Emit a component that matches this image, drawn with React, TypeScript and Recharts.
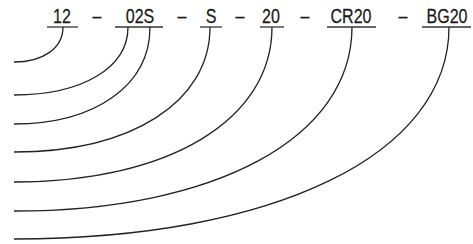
import React from 'react';
import { ComposedChart, XAxis, YAxis, Line, Scatter, ReferenceLine } from 'recharts';

// Diagram coordinate space (same units as the picture)
const codeLabels = ['12', '02S', 'S', '20', 'CR20', 'BG20'];
const labelCenterX = [62, 140, 211, 271, 351, 447];
const underlineStartX = [47, 115, 200, 260, 327, 422];
const underlineEndX = [78, 163, 222, 284, 376, 471];
const dashCenterX = [97, 182, 240, 305, 403];
const underlineY = 27;
const labelBaselineY = 23;

// Callout curves: start on an underline, end at a left-hand level
const curveStartX = [63, 128, 150, 210, 272, 352, 449];
const curveEndY = [62, 95, 124, 152, 182, 211, 239];
const curveEndX = 14;

const W = 473;
const H = 244;

const labelData = codeLabels.map((t, i) => ({ x: labelCenterX[i], y: labelBaselineY, text: t }));
const dashData = dashCenterX.map((x) => ({ x, y: labelBaselineY, text: '–' }));
const curveData = curveStartX.map((sx, i) => [
  { x: sx, y: underlineY },
  { x: curveEndX, y: curveEndY[i] },
]);

// custom d3-style curve factory: vertical tangent at start, horizontal at end
function calloutCurve(context: any) {
  let pts: number[][] = [];
  return {
    areaStart() {},
    areaEnd() {},
    lineStart() {
      pts = [];
    },
    lineEnd() {
      if (pts.length >= 2) {
        const [x1, y1] = pts[0];
        const [x0, y0] = pts[pts.length - 1];
        const k = 0.6;
        context.moveTo(x1, y1);
        context.bezierCurveTo(x1, y1 + k * (y0 - y1), x0 + k * (x1 - x0), y0, x0, y0);
      }
    },
    point(x: number, y: number) {
      pts.push([+x, +y]);
    },
  };
}

const FONT = "'Liberation Sans', Arial, sans-serif";

const TextShape = (props: any) => {
  const { cx, cy, payload } = props;
  return (
    <text
      transform={`translate(${cx},${cy}) scale(0.8,1)`}
      x={0}
      y={0}
      textAnchor="middle"
      fontFamily={FONT}
      fontSize={20}
      fill="#1a1a1a"
      stroke="#1a1a1a"
      strokeWidth={0.25}
    >
      {payload.text}
    </text>
  );
};

export default function App() {
  return (
    <div style={{ position: 'absolute', left: 0, top: 0, width: W, height: H, background: '#fff' }}>
      <ComposedChart width={W} height={H} margin={{ top: 0, right: 0, bottom: 0, left: 0 }}>
        <XAxis type="number" dataKey="x" domain={[0, W]} hide allowDataOverflow />
        <YAxis type="number" dataKey="y" domain={[0, H]} reversed hide allowDataOverflow />
        {codeLabels.map((_, i) => (
          <ReferenceLine
            key={'u' + i}
            segment={[
              { x: underlineStartX[i], y: underlineY },
              { x: underlineEndX[i], y: underlineY },
            ]}
            stroke="#333"
            strokeWidth={1.3}
            ifOverflow="visible"
          />
        ))}
        {curveData.map((d, i) => (
          <Line
            key={'c' + i}
            data={d}
            dataKey="y"
            type={calloutCurve as any}
            stroke="#222"
            strokeWidth={1.3}
            dot={false}
            activeDot={false}
            isAnimationActive={false}
          />
        ))}
        <Scatter data={labelData} dataKey="y" shape={<TextShape />} isAnimationActive={false} />
        <Scatter data={dashData} dataKey="y" shape={<TextShape />} isAnimationActive={false} />
      </ComposedChart>
    </div>
  );
}
